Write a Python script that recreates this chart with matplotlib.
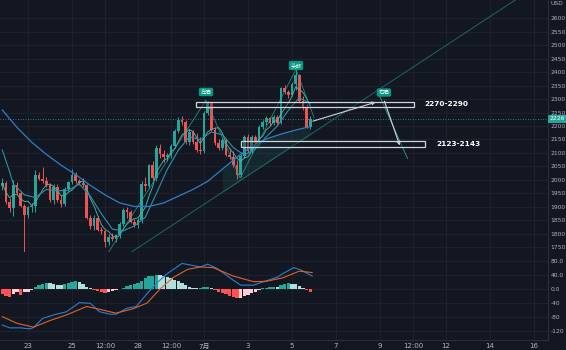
import matplotlib
matplotlib.use('Agg')
import matplotlib.pyplot as plt
import matplotlib.transforms as mtransforms
from matplotlib.patches import Rectangle
import numpy as np
import pandas as pd

plt.rcParams['font.family'] = ['DejaVu Sans', 'Noto Sans CJK SC']

BG = '#131722'
UP = '#26a69a'
DN = '#ef5350'
GRID = '#1e222d'
TXT = '#b2b5be'
SEP = '#2a2e39'

# ---------------- data (4h candles, x in "day of June" units) ----------------
first_day = 21 + 20 / 24          # June 21, 20:00
bar_step = 4 / 24                  # 4 hours

opens = [1976, 1988, 1920, 1895, 1982, 1950, 1905, 1870, 1900, 1905,
         2018, 2005, 1995, 1980, 1925, 1975, 1925, 1910, 1968, 1993,
         2018, 1995, 1990, 1980, 1860, 1830, 1860, 1815, 1810, 1770,
         1790, 1782, 1795, 1838, 1888, 1880, 1846, 1832, 1852, 1985,
         1978, 2054, 2008, 2120, 2095, 2085, 2092, 2126, 2180, 2222,
         2215, 2140, 2178, 2142, 2112, 2106, 2247, 2284, 2185, 2136,
         2118, 2148, 2093, 2086, 2056, 2020, 2088, 2160, 2106, 2158,
         2136, 2196, 2215, 2228, 2210, 2235, 2212, 2340, 2326, 2315,
         2356, 2388, 2292, 2270, 2198]
highs = [2006, 1995, 1935, 2000, 1992, 1958, 1912, 1905, 1915, 2038,
         2030, 2048, 2010, 1990, 1985, 1985, 1945, 1975, 1995, 2040,
         2030, 2005, 2008, 1985, 1870, 1870, 1865, 1825, 1815, 1800,
         1805, 1800, 1845, 1895, 1900, 1890, 1855, 1860, 1995, 2010,
         2060, 2072, 2128, 2135, 2112, 2100, 2132, 2188, 2232, 2236,
         2222, 2188, 2185, 2175, 2160, 2255, 2292, 2288, 2195, 2152,
         2156, 2152, 2120, 2108, 2075, 2095, 2166, 2170, 2166, 2165,
         2202, 2222, 2236, 2233, 2242, 2240, 2346, 2352, 2335, 2362,
         2407, 2392, 2312, 2280, 2238]
lows = [1963, 1912, 1880, 1865, 1945, 1900, 1728, 1860, 1880, 1880,
        2000, 1990, 1975, 1920, 1910, 1920, 1900, 1905, 1960, 1985,
        1990, 1982, 1975, 1855, 1820, 1815, 1810, 1800, 1752, 1760,
        1775, 1770, 1785, 1830, 1860, 1840, 1825, 1822, 1840, 1960,
        1972, 2000, 1998, 2082, 2068, 2070, 2082, 2120, 2175, 2205,
        2135, 2128, 2135, 2105, 2095, 2100, 2240, 2180, 2130, 2110,
        2110, 2088, 2078, 2048, 2003, 2010, 2080, 2100, 2100, 2128,
        2130, 2190, 2205, 2200, 2205, 2205, 2206, 2318, 2305, 2310,
        2335, 2285, 2260, 2192, 2190]
closes = [1988, 1920, 1895, 1982, 1950, 1905, 1870, 1900, 1905, 2018,
          2005, 1995, 1980, 1925, 1975, 1925, 1910, 1968, 1993, 2018,
          1995, 1990, 1980, 1860, 1830, 1860, 1815, 1810, 1770, 1790,
          1782, 1795, 1838, 1888, 1880, 1846, 1832, 1852, 1985, 1978,
          2054, 2008, 2120, 2095, 2085, 2092, 2126, 2180, 2222, 2215,
          2140, 2178, 2142, 2112, 2106, 2247, 2284, 2185, 2136, 2118,
          2148, 2093, 2086, 2056, 2020, 2088, 2160, 2106, 2158, 2136,
          2196, 2215, 2228, 2210, 2235, 2212, 2340, 2326, 2315, 2356,
          2388, 2292, 2270, 2198, 2226]

# moving-average lines (bar index, price)
ma_mid_idx = [0, 2, 3, 6, 9, 12, 15, 18, 21, 24, 27, 30, 33, 36, 39, 42, 45,
              48, 51, 54, 57, 60, 63, 66, 69, 72, 75, 78, 81, 84]
ma_mid_val = [2111, 2030, 1985, 1945, 1935, 1965, 1960, 1962, 1985, 1940,
              1875, 1818, 1812, 1830, 1862, 1950, 2040, 2110, 2160, 2150,
              2178, 2168, 2120, 2092, 2115, 2160, 2200, 2258, 2305, 2282]
ma_slow_idx = [0, 4, 8, 12, 16, 20, 24, 28, 32, 36, 40, 44, 48, 52, 56, 60,
               64, 68, 72, 76, 80, 84]
ma_slow_val = [2259, 2195, 2140, 2095, 2055, 2020, 1980, 1945, 1915, 1902,
               1902, 1915, 1940, 1965, 1995, 2040, 2085, 2125, 2152, 2170,
               2185, 2198]

# MACD pane
hist = [-15, -20, -22, -14, -10, -17, -10, -8, -4, 5,
        10, 14, 17, 16, 13, 11, 10, 14, 18, 21,
        22, 20, 15, 7, 2, -3, -5, -8, -11, -8,
        -6, -4, -1, 4, 8, 10, 13, 16, 22, 30,
        36, 38, 40, 39, 36, 33, 30, 26, 22, 16,
        10, 5, 3, 2, 4, 6, 7, 3, -4, -8,
        -12, -15, -19, -24, -27, -25, -20, -16, -12, -8,
        -4, 2, 4, 5, 7, 6, 12, 15, 16, 15,
        13, 8, 3, -4, -8]
macd_idx = [0, 2, 5, 7.5, 8.5, 11, 14, 17.5, 21, 24, 26.5, 29.5, 31, 34,
            36.5, 39.5, 42, 45, 49, 51, 54, 56, 58.5, 63, 65, 68.5, 71,
            75, 76.5, 79.5, 81.5, 84.5]
macd_val = [-103, -111, -111, -114, -110, -84, -74, -65, -39, -41, -65,
            -72, -72, -55, -50, -13, 16, 44, 73, 69, 63, 71, 59, 25, 11,
            11, 20, 34, 44, 61, 54, 37]
sig_idx = [0, 4, 8.5, 13, 17.5, 23, 26.5, 31, 35.5, 39.5, 43, 46.5, 50.5,
           54, 57.5, 63, 68.5, 72, 76.5, 81, 84.5]
sig_val = [-79, -98, -109, -90, -74, -50, -58, -69, -57, -40, 0, 32, 56,
           63, 61, 37, 21, 22, 32, 51, 47]

tick_pos = [23, 25, 26.5, 28, 29.5, 31, 33, 35, 37, 39, 40.5, 42, 44, 46]
tick_lab = ['23', '25', '12:00', '28', '12:00', '7月', '3', '5', '7', '9',
            '12:00', '12', '14', '16']
price_ticks = list(range(1750, 2601, 50))
macd_ticks = [80, 40, 0, -40, -80, -120]
macd_tick_lab = ['80.0', '40.0', '0.0', '-40', '-80', '-120']

zones = [(2270, 2290), (2123, 2143)]
zone_start = [30.64, 32.68]
zone_end = [40.55, 41.05]
zone_text_x = [41.0, 41.55]

pattern_labels = ['左肩', '头部', '右肩']
pattern_x = [31.09, 35.18, 39.18]
pattern_y = [2326, 2424, 2324]

zigzag_x = [26.64, 31.09, 32.64, 35.18, 36.0]
zigzag_y = [1730, 2296, 2007, 2410, 2232]
trend_x0, trend_y0, trend_slope = 27.64, 1730, 53.5     # price per day

arrow_from = [(35.95, 2218), (39.2, 2292)]
arrow_to = [(38.8, 2288), (39.9, 2128)]
steep_x = [38.9, 40.25]
steep_y = [2326, 2080]

# ---------------- figure ----------------
W, H = 566, 350
fig = plt.figure(figsize=(W / 100, H / 100), dpi=100, facecolor=BG)
ax = fig.add_axes([0, 98 / H, 548 / W, 252 / H], facecolor=BG)
axm = fig.add_axes([0, 10 / H, 548 / W, 88 / H], facecolor=BG, sharex=ax)

xmin, xmax = 21.727, 46.636
ax.set_xlim(xmin, xmax)
ax.set_ylim(1733.3, 2666.7)
axm.set_ylim(-145.7, 105.7)

n = len(closes)
t = first_day + bar_step * np.arange(n)
o = np.array(opens, float); c = np.array(closes, float)
hi = np.array(highs, float); lo = np.array(lows, float)
up = c >= o
cols = np.where(up, UP, DN)

for a in (ax, axm):
    for s in ('top', 'left'):
        a.spines[s].set_visible(False)
    a.spines['right'].set_color(SEP)
    a.spines['right'].set_linewidth(0.8)
    a.spines['bottom'].set_color(SEP)
    a.spines['bottom'].set_linewidth(0.8)
    a.yaxis.tick_right()
    a.tick_params(axis='y', length=0, pad=2, labelsize=4.3, labelcolor=TXT)
    a.tick_params(axis='x', length=0, pad=2.5, labelsize=5, labelcolor=TXT)
    a.set_xticks(tick_pos)
    a.grid(True, color=GRID, lw=0.7, zorder=0)
    a.set_axisbelow(True)

ax.tick_params(axis='x', labelbottom=False)
axm.set_xticklabels(tick_lab)

ax.set_yticks(price_ticks)
ax.set_yticklabels([str(v) for v in price_ticks])
axm.set_yticks(macd_ticks)
axm.set_yticklabels(macd_tick_lab)

# trendline + wedge fill
tx = np.array([trend_x0, xmax + 1])
ax.plot(tx, trend_y0 + trend_slope * (tx - trend_x0), color=UP, lw=0.7,
        alpha=0.55, zorder=2)
slow_t = first_day + bar_step * np.array(ma_slow_idx)
slow_v = np.array(ma_slow_val, float)
m = np.array(ma_slow_idx) >= 60
fx = slow_t[m]
ax.fill_between(fx, trend_y0 + trend_slope * (fx - trend_x0), slow_v[m],
                where=slow_v[m] > trend_y0 + trend_slope * (fx - trend_x0),
                color=UP, alpha=0.12, lw=0, zorder=1)

# candles
ax.vlines(t, lo, hi, colors=cols, lw=0.7, zorder=3)
ax.bar(t, np.maximum(np.abs(c - o), 1.5), bottom=np.minimum(o, c),
       width=bar_step * 0.78, color=cols, lw=0, zorder=3)

# moving averages
fast = pd.Series(c).rolling(5, min_periods=1).mean()
ax.plot(t, fast, color='#4fb8b0', lw=0.7, alpha=0.9, zorder=4)
ax.plot(first_day + bar_step * np.array(ma_mid_idx), ma_mid_val,
        color='#2b93a8', lw=0.8, zorder=4)
ax.plot(slow_t, slow_v, color='#2f7ec7', lw=0.9, zorder=4)

# current price line + label
ax.axhline(c[-1], color=UP, lw=0.6, ls=(0, (1, 2)), zorder=2)
trans = mtransforms.blended_transform_factory(ax.transAxes, ax.transData)
ax.text(1.003, c[-1], f'{c[-1]:.0f}', transform=trans, ha='left', va='center',
        fontsize=4.3, color='white', clip_on=False, zorder=10,
        bbox=dict(boxstyle='square,pad=0.25', fc=UP, ec='none'))
ax.text(1.004, 0.985, 'USD', transform=ax.transAxes, ha='left', va='center',
        fontsize=4.3, color=TXT, clip_on=False)

# pattern drawings
ax.plot(zigzag_x, zigzag_y, color=UP, lw=0.6, alpha=0.8, zorder=5)
ax.plot(steep_x, steep_y, color=UP, lw=0.7, alpha=0.85, zorder=5)

for (lo_, hi_), xs, xe, txx in zip(zones, zone_start, zone_end, zone_text_x):
    ax.add_patch(Rectangle((xs, lo_), xe - xs, hi_ - lo_, fc=BG, alpha=0.35,
                           ec='none', zorder=6))
    ax.add_patch(Rectangle((xs, lo_), xe - xs, hi_ - lo_, fc='none',
                           ec='#d1d4dc', lw=0.9, zorder=6))
    ax.text(txx, (lo_ + hi_) / 2, f'{lo_}-{hi_}', fontsize=5.3,
            fontweight='bold', color='white', ha='left', va='center', zorder=7)

for (x0, y0), (x1, y1) in zip(arrow_from, arrow_to):
    ax.annotate('', xy=(x1, y1), xytext=(x0, y0), zorder=7,
                arrowprops=dict(arrowstyle='->', color='#d1d4dc', lw=0.8,
                                mutation_scale=5, shrinkA=0, shrinkB=0))

for lab, x0, y0 in zip(pattern_labels, pattern_x, pattern_y):
    ax.text(x0, y0, lab, fontsize=4.0, color='white', ha='center', va='center',
            family=['Noto Sans CJK SC', 'DejaVu Sans'], zorder=8,
            bbox=dict(boxstyle='round,pad=0.3,rounding_size=0.3', fc='#089981',
                      ec='none'))

# MACD pane
hv = np.array(hist, float)
prev = np.concatenate([[hv[0]], hv[:-1]])
hcol = np.where(hv >= 0, np.where(hv >= prev, '#26a69a', '#b2dfdb'),
                np.where(hv <= prev, '#ff5252', '#ffcdd2'))
axm.bar(t, hv, width=bar_step * 0.85, color=hcol, lw=0, zorder=3)
axm.plot(first_day + bar_step * np.array(macd_idx), macd_val, color='#2a7fd4',
         lw=0.8, zorder=4)
axm.plot(first_day + bar_step * np.array(sig_idx), sig_val, color='#e0622a',
         lw=0.8, zorder=4)

fig.savefig('out.png', dpi=100, facecolor=BG)
